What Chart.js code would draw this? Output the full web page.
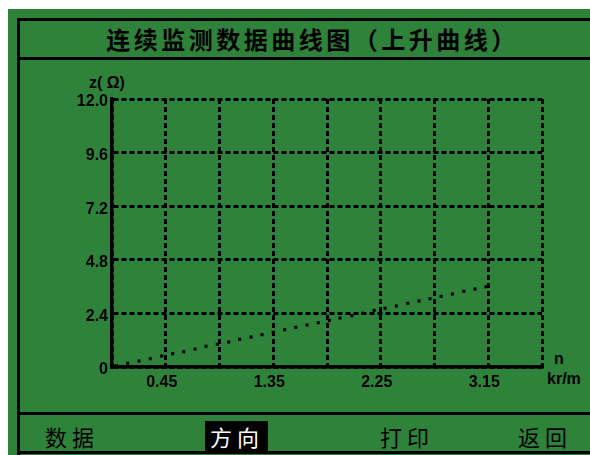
<!DOCTYPE html>
<html>
<head>
<meta charset="utf-8">
<script src="https://cdn.jsdelivr.net/npm/chart.js@4/dist/chart.umd.min.js"></script>
<style>
  html, body { margin: 0; padding: 0; background: #ffffff; width: 590px; height: 455px; overflow: hidden; }
  #bg { position: absolute; left: 8px; top: 9px; width: 582px; height: 446px; background: #2e8239; }
  .ln { position: absolute; background: #000; }
  #title { position: absolute; left: 17px; width: 573px; top: 21px; height: 36px; line-height: 36px; text-align: center;
           font-family: "Noto Sans CJK SC", sans-serif; font-weight: 700; font-size: 24px; letter-spacing: 3.5px; color: #000; padding-left: 18px; box-sizing: border-box; }
  .btn { position: absolute; top: 421px; height: 30px; line-height: 30px; font-family: "Noto Sans CJK SC", sans-serif;
         font-weight: 400; font-size: 22px; letter-spacing: 5px; color: #000; white-space: nowrap; }
  .btn.sel { background: #000; color: #fff; padding-left: 5px; width: 58px; }
  .lab { position: absolute; font-family: "Liberation Sans", Arial, sans-serif; font-weight: 700; font-size: 16px; color: #000; white-space: nowrap; line-height: 1; }
  canvas { position: absolute; left: 0; top: 0; }
</style>
</head>
<body>
<div id="bg"></div>
<div class="ln" style="left:17px;top:18px;width:3px;height:437px;"></div>
<div class="ln" style="left:17px;top:18px;width:573px;height:3px;"></div>
<div class="ln" style="left:17px;top:57px;width:573px;height:3px;"></div>
<div class="ln" style="left:17px;top:412px;width:573px;height:3px;"></div>
<div class="ln" style="left:17px;top:451px;width:573px;height:3px;"></div>
<div id="title">连续监测数据曲线图（上升曲线）</div>
<div class="btn" style="left:45px;">数据</div>
<div class="btn sel" style="left:205px;">方向</div>
<div class="btn" style="left:380px;">打印</div>
<div class="btn" style="left:518px;">返回</div>
<div class="lab" style="left:89px;top:75px;">z( Ω)</div>
<div class="lab" style="left:554px;top:351px;">n</div>
<div class="lab" style="left:547px;top:371px;">kr/m</div>
<canvas id="c" width="590" height="455"></canvas>
<script>
// Data
const nValues = [0.037, 0.131, 0.226, 0.321, 0.416, 0.508, 0.600, 0.695, 0.787, 0.882, 0.977,
                 1.069, 1.164, 1.256, 1.350, 1.446, 1.538, 1.633, 1.727, 1.820, 1.909, 2.007,
                 2.099, 2.194, 2.286, 2.380, 2.476, 2.570, 2.662, 2.755, 2.849, 2.945, 3.039, 3.131];
const zValues = [0.06, 0.166, 0.269, 0.372, 0.493, 0.596, 0.685, 0.806, 0.927, 1.017, 1.120,
                 1.240, 1.343, 1.446, 1.554, 1.670, 1.778, 1.881, 1.984, 2.080, 2.194, 2.297,
                 2.405, 2.539, 2.629, 2.732, 2.853, 2.956, 3.059, 3.166, 3.269, 3.390, 3.493, 3.596];
const xTicks = [0, 0.45, 0.9, 1.35, 1.8, 2.25, 2.7, 3.15, 3.6];
const xTickLabels = ['', '0.45', '', '1.35', '', '2.25', '', '3.15', ''];
const yTicks = [0, 2.4, 4.8, 7.2, 9.6, 12.0];
const yTickLabels = ['0', '2.4', '4.8', '7.2', '9.6', '12.0'];

const points = nValues.map((n, i) => ({ x: n, y: zValues[i] }));
const tickFont = { family: '"Liberation Sans", Arial, sans-serif', weight: 'bold', size: 16 };

new Chart(document.getElementById('c'), {
  type: 'scatter',
  data: {
    datasets: [{
      data: points,
      showLine: false,
      pointStyle: 'rect',
      pointRadius: 2.2,
      pointBorderWidth: 0,
      pointBackgroundColor: '#000',
      pointBorderColor: '#000'
    }]
  },
  options: {
    responsive: false,
    animation: false,
    events: [],
    layout: { padding: { left: 0, top: 99, right: 48, bottom: 58 } },
    plugins: { legend: { display: false }, tooltip: { enabled: false } },
    scales: {
      x: {
        type: 'linear', min: 0, max: 3.6,
        afterBuildTicks: s => { s.ticks = xTicks.map(v => ({ value: v })); },
        afterFit: s => { s.height = 30; },
        ticks: {
          color: '#000', font: tickFont, padding: 6, labelOffset: -4, maxRotation: 0, autoSkip: false,
          callback: (v, i) => xTickLabels[i]
        },
        grid: { color: '#000', lineWidth: 3, drawTicks: false },
        border: { display: true, color: '#000', width: 3.5, dash: [5, 3] }
      },
      y: {
        type: 'linear', min: 0, max: 12,
        afterBuildTicks: s => { s.ticks = yTicks.map(v => ({ value: v })); },
        afterFit: s => { s.width = 112; },
        ticks: {
          color: '#000', font: tickFont, padding: 4, labelOffset: 3, autoSkip: false,
          callback: (v, i) => yTickLabels[i]
        },
        grid: { color: '#000', lineWidth: 3, drawTicks: false },
        border: { display: true, color: '#000', width: 3.5, dash: [5, 3] }
      }
    }
  }
});
</script>
</body>
</html>
